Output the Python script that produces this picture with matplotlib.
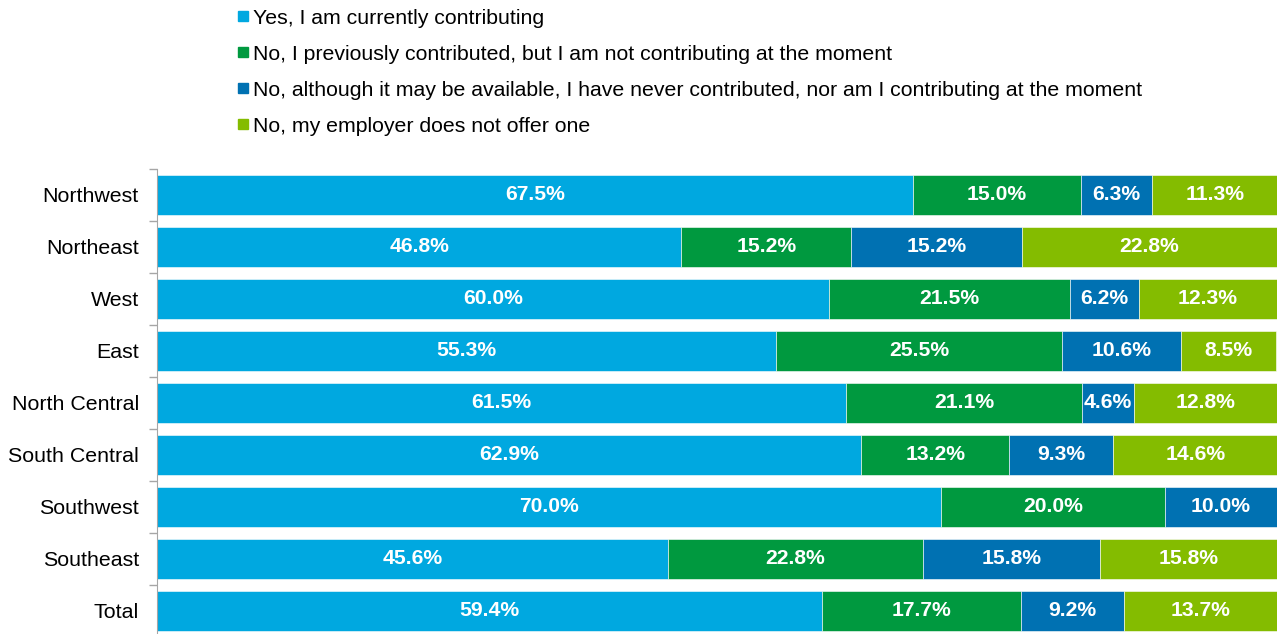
import numpy as np
import matplotlib
matplotlib.use('Agg')
import matplotlib.pyplot as plt
from matplotlib.lines import Line2D

plt.rcParams['font.family'] = ['Liberation Sans', 'DejaVu Sans']

regions = ['Northwest', 'Northeast', 'West', 'East', 'North Central',
           'South Central', 'Southwest', 'Southeast', 'Total']
series = ['Yes, I am currently contributing',
          'No, I previously contributed, but I am not contributing at the moment',
          'No, although it may be available, I have never contributed, nor am I contributing at the moment',
          'No, my employer does not offer one']
yes_now = [67.5, 46.8, 60.0, 55.3, 61.5, 62.9, 70.0, 45.6, 59.4]
prev = [15.0, 15.2, 21.5, 25.5, 21.1, 13.2, 20.0, 22.8, 17.7]
never = [6.3, 15.2, 6.2, 10.6, 4.6, 9.3, 10.0, 15.8, 9.2]
no_offer = [11.3, 22.8, 12.3, 8.5, 12.8, 14.6, 0.0, 15.8, 13.7]
colors = ['#00A8E0', '#00993F', '#0071B2', '#84BC00']

fig = plt.figure(figsize=(12.77, 6.34), dpi=100)
ax = fig.add_axes([157/1277, 1 - 637/634, 1120/1277, 468/634])

y = np.arange(len(regions))
left = np.zeros(len(regions))
for vals, col in zip([yes_now, prev, never, no_offer], colors):
    vals = np.array(vals)
    ax.barh(y, vals, left=left, height=0.77, color=col, edgecolor='white', linewidth=0.4)
    for yi, l, v in zip(y, left, vals):
        if v > 0:
            ax.text(l + v / 2, yi, f'{v:.1f}%', ha='center', va='center',
                    color='white', fontsize=15.2, fontweight='bold')
    left += vals

ax.set_xlim(0, 100)
ax.set_ylim(len(regions) - 0.5, -0.5)
ax.set_yticks(y)
ax.set_yticklabels(regions, fontsize=15.4)
ax.set_yticks(np.arange(len(regions) + 1) - 0.5, minor=True)
ax.tick_params(axis='y', which='major', length=0, pad=13)
ax.tick_params(axis='y', which='minor', length=6, color='#A6A6A6', width=1)
ax.set_xticks([])
for s in ['top', 'right', 'bottom']:
    ax.spines[s].set_visible(False)
ax.spines['left'].set_color('#A6A6A6')

handles = [Line2D([], [], marker='s', linestyle='none', markersize=7,
                  markerfacecolor=c, markeredgecolor=c) for c in colors]
fig.legend(handles, series, loc='upper left', bbox_to_anchor=(226/1277, 0.9995),
           frameon=False, fontsize=15.3, handletextpad=0.05, labelspacing=0.8,
           handlelength=0.8, borderaxespad=0)

fig.savefig('out.png', dpi=100)
